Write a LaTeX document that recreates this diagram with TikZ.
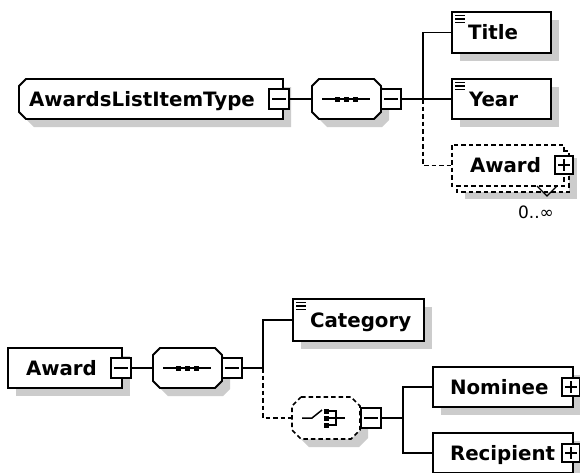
\documentclass[tikz,border=0pt]{standalone}
\usepackage{fontspec}
\setmainfont{DejaVu Sans}
\usetikzlibrary{calc}
\definecolor{shadowc}{RGB}{204,204,204}
\tikzset{
  frame/.style 2 args={rectangle, inner sep=0pt, outer sep=0pt, anchor=north west, minimum width=#1, minimum height=#2},
  box/.style={draw=black, line width=1.8pt, fill=white},
  optbox/.style={draw=black, line width=1.6pt, fill=white, dash pattern=on 4.5pt off 3pt},
  conn/.style={draw=black, line width=1.7pt},
  optconn/.style={draw=black, line width=1.6pt, dash pattern=on 4.5pt off 3pt},
  sign/.style={draw=black, line width=1.5pt},
  icon/.style={draw=black, line width=1.1pt},
  lbl/.style={font=\fontsize{19.8}{20}\selectfont\bfseries, inner sep=0pt, outer sep=0pt, text height=14.4pt, text depth=0pt, anchor=west},
  occ/.style={font=\fontsize{17}{17}\selectfont, inner sep=0pt}
}
\newcommand\octpath[4]{($(#1.north west)+(#2+#3,#4)$) -- ($(#1.north east)+(-#2+#3,#4)$) -- ($(#1.north east)+(#3,#2+#4)$) -- ($(#1.south east)+(#3,-#2+#4)$) -- ($(#1.south east)+(-#2+#3,#4)$) -- ($(#1.south west)+(#2+#3,#4)$) -- ($(#1.south west)+(#3,-#2+#4)$) -- ($(#1.north west)+(#3,#2+#4)$) -- cycle}
\newcommand\leftch[4]{($(#1.north west)+(#2+#3,#4)$) -- ($(#1.north east)+(#3,#4)$) -- ($(#1.south east)+(#3,#4)$) -- ($(#1.south west)+(#2+#3,#4)$) -- ($(#1.south west)+(#3,-#2+#4)$) -- ($(#1.north west)+(#3,#2+#4)$) -- cycle}
\newcommand\rectpath[3]{($(#1.north west)+(#2,#3)$) rectangle ($(#1.south east)+(#2,#3)$)}
\newcommand\minusbox[1]{\draw[box, line width=1.5pt] \rectpath{#1}{0}{0}; \draw[sign] ($(#1.west)+(3,0)$) -- ($(#1.east)+(-3,0)$);}
\newcommand\plusbox[1]{\minusbox{#1}\draw[sign] ($(#1.north)+(0,3)$) -- ($(#1.south)+(0,-3)$);}
\newcommand\simpleicon[1]{\draw[icon] ($(#1.north west)+(3,3.5)$) -- ++(10,0) ($(#1.north west)+(3,7)$) -- ++(10,0) ($(#1.north west)+(3,10.5)$) -- ++(10,0);}
\newcommand\seqicon[1]{\draw[conn, line width=1.5pt] ($(#1.west)+(10,0)$) -- ($(#1.east)+(-11,0)$);
  \fill ($(#1.center)+(-11.5,-2.5)$) rectangle ++(5,5);
  \fill ($(#1.center)+(-2.5,-2.5)$) rectangle ++(5,5);
  \fill ($(#1.center)+(6.5,-2.5)$) rectangle ++(5,5);}
\begin{document}
\begin{tikzpicture}[x=1pt,y=-1pt, line join=miter]
\fill[white] (0,0) rectangle (580,472);
\useasboundingbox (0,0) rectangle (580,472);
% ---------- frames (top) ----------
\node[frame={264}{40}] (alit) at (19,79) {};
\node[frame={20}{20}] (alitm) at (269,89) {};
\node[frame={69}{40}] (seqA) at (312,79) {};
\node[frame={20}{20}] (seqAm) at (381,89) {};
\coordinate (bA) at (423,99);
\node[frame={99}{41}] (title) at (452,12) {};
\node[frame={99}{40}] (year) at (452,79) {};
\node[frame={112}{41}] (awardAb) at (457,151) {};
\node[frame={112}{41}] (awardA) at (452,145) {};
\node[frame={18}{18}] (awardAp) at (555,156) {};
% ---------- frames (bottom) ----------
\node[frame={114}{40}] (awardB) at (8,348) {};
\node[frame={20}{20}] (awardBm) at (111,358) {};
\node[frame={69}{40}] (seqB) at (153,348) {};
\node[frame={20}{20}] (seqBm) at (222,358) {};
\coordinate (bB) at (263,368);
\node[frame={131}{42}] (cat) at (293,299) {};
\node[frame={68}{42}] (choice) at (292,397) {};
\node[frame={20}{20}] (choicem) at (361,408) {};
\coordinate (bC) at (403,418);
\node[frame={140}{40}] (nom) at (433,367) {};
\node[frame={18}{18}] (nomp) at (562,378) {};
\node[frame={140}{40}] (rec) at (433,433) {};
\node[frame={18}{18}] (recp) at (562,444) {};
% ---------- shadows ----------
\fill[shadowc] \leftch{alit}{7}{8}{8};
\fill[shadowc] \octpath{seqA}{7}{8}{8};
\fill[shadowc] \rectpath{title}{8}{8};
\fill[shadowc] \rectpath{year}{8}{8};
\fill[shadowc] \rectpath{awardAb}{8}{7};
\fill[shadowc] \rectpath{awardB}{8}{8};
\fill[shadowc] \octpath{seqB}{7}{8}{8};
\fill[shadowc] \rectpath{cat}{8}{8};
\fill[shadowc] \octpath{choice}{9}{8}{8};
\fill[shadowc] \rectpath{nom}{8}{8};
\fill[shadowc] \rectpath{rec}{8}{8};
% ---------- connectors ----------
\draw[conn] (alitm.east) -- (seqA.west);
\draw[conn] (seqAm.east) -- (bA) |- (title.west);
\draw[conn] (bA) -- (year.west);
\draw[optconn] (bA) |- (awardA.west);
\draw[conn] (awardBm.east) -- (seqB.west);
\draw[conn] (seqBm.east) -- (bB) |- (cat.west);
\draw[optconn] (bB) |- (choice.west);
\draw[conn] (choicem.east) -- (bC) |- (nom.west);
\draw[conn] (bC) |- (rec.west);
% ---------- shapes (top) ----------
\draw[box] \leftch{alit}{7}{0}{0};
\minusbox{alitm}
\draw[box] \octpath{seqA}{7}{0}{0};
\seqicon{seqA}
\minusbox{seqAm}
\draw[box] \rectpath{title}{0}{0};
\simpleicon{title}
\draw[box] \rectpath{year}{0}{0};
\simpleicon{year}
\draw[optbox] \rectpath{awardAb}{0}{0};
\draw[optbox] \rectpath{awardA}{0}{0};
\draw[icon, line width=1.3pt] ($(awardA.south east)+(-27,0)$) -- ($(awardA.south east)+(-17,10)$) -- ($(awardA.south east)+(-7,0)$);
\plusbox{awardAp}
% ---------- shapes (bottom) ----------
\draw[box] \rectpath{awardB}{0}{0};
\minusbox{awardBm}
\draw[box] \octpath{seqB}{7}{0}{0};
\seqicon{seqB}
\minusbox{seqBm}
\draw[box] \rectpath{cat}{0}{0};
\simpleicon{cat}
\draw[optbox] \octpath{choice}{9}{0}{0};
\draw[conn, line width=1.5pt] ($(choice.west)+(10,0)$) -- ($(choice.west)+(20,0)$) -- ($(choice.west)+(30,-8)$);
\fill ($(choice.west)+(32,-9.5)$) rectangle ++(5,5);
\fill ($(choice.west)+(32,-2.5)$) rectangle ++(5,5);
\fill ($(choice.west)+(32,4.5)$) rectangle ++(5,5);
\draw[conn, line width=1.5pt] ($(choice.west)+(37,-7)$) -- ($(choice.west)+(44,-7)$) -- ($(choice.west)+(44,7)$) -- ($(choice.west)+(37,7)$);
\draw[conn, line width=1.5pt] ($(choice.west)+(37,0)$) -- ($(choice.west)+(53,0)$);
\minusbox{choicem}
\draw[box] \rectpath{nom}{0}{0};
\plusbox{nomp}
\draw[box] \rectpath{rec}{0}{0};
\plusbox{recp}
% ---------- texts ----------
\node[lbl] (talit) at ($(alit.west)+(10,0)$) {AwardsListItemType};
\node[lbl] (ttitle) at ($(title.west)+(16,0)$) {Title};
\node[lbl] (tyear) at ($(year.west)+(17,0)$) {Year};
\node[lbl] (tawardA) at ($(awardA.west)+(18,0)$) {Award};
\node[occ] (toccA) at (536,212) {0..∞};
\node[lbl] (tawardB) at ($(awardB.west)+(18,0)$) {Award};
\node[lbl] (tcat) at ($(cat.west)+(17,0)$) {Category};
\node[lbl] (tnom) at ($(nom.west)+(17,0)$) {Nominee};
\node[lbl] (trec) at ($(rec.west)+(17,0)$) {Recipient};
\end{tikzpicture}
\end{document}
